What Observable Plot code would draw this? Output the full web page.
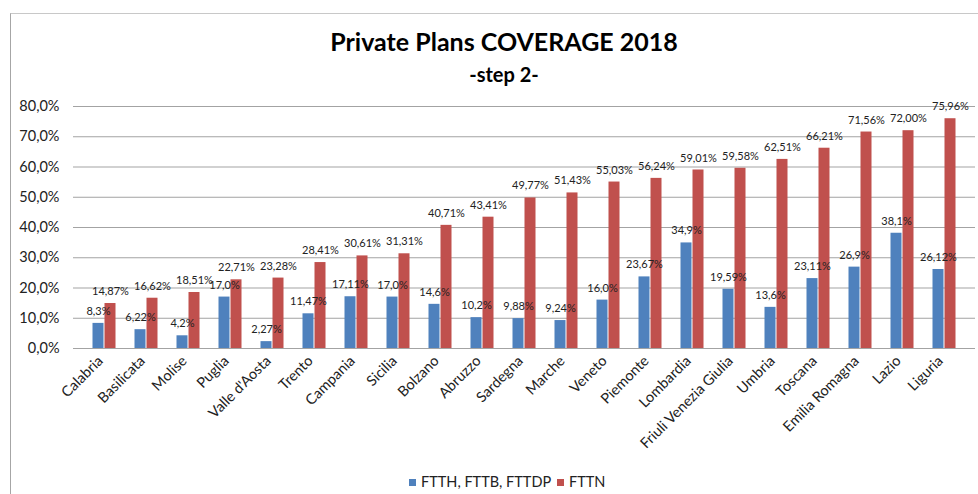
<!DOCTYPE html>
<html>
<head>
<meta charset="utf-8">
<script src="https://cdn.jsdelivr.net/npm/d3@7"></script>
<script src="https://cdn.jsdelivr.net/npm/@observablehq/plot@0.6"></script>
<style>
  html, body { margin: 0; padding: 0; background: #fff; }
  body { width: 978px; height: 494px; position: relative; overflow: hidden; font-family: Lato, "Open Sans", sans-serif; color: #000; }
  #frame { position: absolute; left: 10px; top: 13px; width: 1000px; height: 500px; border-left: 1px solid #a6a6a6; border-top: 1px solid #c8c8c8; }
  #title { position: absolute; left: 15px; width: 978px; top: 26px; text-align: center; font-weight: bold; font-size: 25px; line-height: 30px; }
  #subtitle { position: absolute; left: 15px; width: 978px; top: 62px; text-align: center; font-weight: bold; font-size: 20px; line-height: 24px; }
  #chart { position: absolute; left: 0; top: 90px; }
  #legend { position: absolute; left: 0; top: 473px; width: 978px; font-size: 14.5px; color: #222; }
  #legend span.item { position: absolute; top: 0; white-space: nowrap; }
  #legend i { display: inline-block; width: 7px; height: 7px; margin-right: 5px; vertical-align: 1px; }
</style>
</head>
<body>
<div id="frame"></div>
<div id="title">Private Plans COVERAGE 2018</div>
<div id="subtitle">-step 2-</div>
<div id="chart"></div>
<div id="legend"></div>
<script>
// Regions, ordered by FTTN coverage
const regions = ["Calabria", "Basilicata", "Molise", "Puglia", "Valle d'Aosta", "Trento", "Campania",
  "Sicilia", "Bolzano", "Abruzzo", "Sardegna", "Marche", "Veneto", "Piemonte", "Lombardia",
  "Friuli Venezia Giulia", "Umbria", "Toscana", "Emilia Romagna", "Lazio", "Liguria"];

// Coverage labels as published (Italian decimal comma)
const ftthLabels = ["8,3%", "6,22%", "4,2%", "17,0%", "2,27%", "11,47%", "17,11%", "17,0%", "14,6%", "10,2%",
  "9,88%", "9,24%", "16,0%", "23,67%", "34,9%", "19,59%", "13,6%", "23,11%", "26,9%", "38,1%", "26,12%"];
const fttnLabels = ["14,87%", "16,62%", "18,51%", "22,71%", "23,28%", "28,41%", "30,61%", "31,31%", "40,71%", "43,41%",
  "49,77%", "51,43%", "55,03%", "56,24%", "59,01%", "59,58%", "62,51%", "66,21%", "71,56%", "72,00%", "75,96%"];

const seriesNames = ["FTTH, FTTB, FTTDP", "FTTN"];
const seriesColors = ["#4f81bd", "#c0504d"];
const yTicks = [0, 10, 20, 30, 40, 50, 60, 70, 80];

const parsePct = s => +s.replace("%", "").replace(",", ".");
const ftth = ftthLabels.map(parsePct);
const fttn = fttnLabels.map(parsePct);

const rowsA = regions.map((r, i) => ({region: r, value: ftth[i], label: ftthLabels[i]}));
const rowsB = regions.map((r, i) => ({region: r, value: fttn[i], label: fttnLabels[i]}));

const font = "Lato, 'Open Sans', sans-serif";

const chart = Plot.plot({
  width: 978,
  height: 378,
  marginLeft: 73,
  marginRight: 3,
  marginTop: 16,
  marginBottom: 120,
  style: {fontFamily: font, background: "transparent", overflow: "visible"},
  x: {domain: regions, padding: 0, label: null},
  y: {domain: [0, 80], label: null},
  marks: [
    Plot.ruleY(yTicks, {stroke: "#a3a3a3", strokeWidth: 1}),
    // two side-by-side bars per region
    Plot.barY(rowsA, {x: "region", y: "value", fill: seriesColors[0], insetLeft: 9.5, insetRight: 21.5}),
    Plot.barY(rowsB, {x: "region", y: "value", fill: seriesColors[1], insetLeft: 21.5, insetRight: 9.5}),
    Plot.text(rowsA, {x: "region", y: "value", text: "label", dx: -6, dy: -12, fontSize: 11, fill: "#222"}),
    Plot.text(rowsB, {x: "region", y: "value", text: "label", dx: 6, dy: -12, fontSize: 11, fill: "#222"}),
    Plot.axisY(yTicks, {tickSize: 0, tickPadding: 14, fontSize: 14.5, tickFormat: d => d.toFixed(1).replace(".", ",") + "%", fill: "#222"}),
    Plot.axisX({tickSize: 0, tickPadding: 10, tickRotate: -45, fontSize: 14.5, dx: -4, fill: "#222"})
  ]
});
document.getElementById("chart").appendChild(chart);

// Legend below the chart
const legend = document.getElementById("legend");
const legendX = [409, 557];
seriesNames.forEach((name, i) => {
  const item = document.createElement("span");
  item.className = "item";
  item.style.left = legendX[i] + "px";
  item.innerHTML = `<i style="background:${seriesColors[i]}"></i>`;
  item.appendChild(document.createTextNode(name));
  legend.appendChild(item);
});
</script>
</body>
</html>
